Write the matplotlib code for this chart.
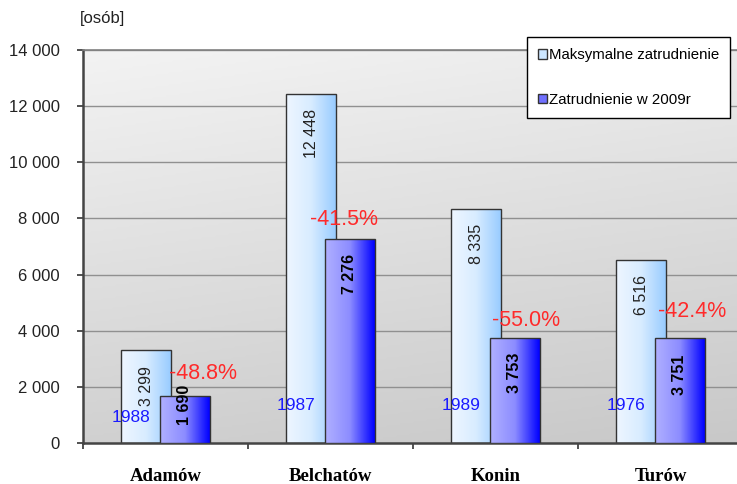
import numpy as np
import matplotlib.pyplot as plt
from matplotlib.colors import LinearSegmentedColormap
from matplotlib.patches import Patch

plt.rcParams['font.family'] = ['Liberation Sans', 'DejaVu Sans']

# dane
kopalnie = ['Adamów', 'Belchatów', 'Konin', 'Turów']
maks_zatr = [3299, 12448, 8335, 6516]
zatr_2009 = [1690, 7276, 3753, 3751]
lata_maks = ['1988', '1987', '1989', '1976']
y_ticks = [0, 2000, 4000, 6000, 8000, 10000, 12000, 14000]
y_tick_labels = ['0', '2 000', '4 000', '6 000', '8 000', '10 000', '12 000', '14 000']

def fmt(v):
    return f'{v:,}'.replace(',', ' ')

fig = plt.figure(figsize=(7.37, 4.84), dpi=100)
ax = fig.add_axes([83/737, 41/484, 660/737, 393/484])
ax.set_xlim(-0.5, 3.5)
ax.set_ylim(0, 14000)

# tlo obszaru wykresu - gradient szary
yy, xx = np.mgrid[0:1:200j, 0:1:200j]
t = 0.8 * yy + 0.2 * xx
bg = LinearSegmentedColormap.from_list('bg', ['#f3f3f3', '#c8c8c8'])
ax.imshow(t, cmap=bg, extent=(0, 1, 0, 1), transform=ax.transAxes,
          aspect='auto', origin='upper', zorder=0)

for v in y_ticks[1:]:
    ax.axhline(v, color='#909090', lw=1, zorder=1)

cm1 = LinearSegmentedColormap.from_list('c1', ['#eef6ff', '#d8ecff', '#99ccff'])
cm2 = LinearSegmentedColormap.from_list('c2', ['#b0b0ff', '#8c8cff', '#0000ff'])
grad = np.linspace(0, 1, 100).reshape(1, -1)

x = np.arange(len(kopalnie))
w = 0.303
off = 0.118

def gradient_bars(xs, vals, cmap, z):
    bars = ax.bar(xs, vals, w, facecolor='none', edgecolor='#333333',
                  lw=1, zorder=z + 0.1)
    for b in bars:
        x0, y0 = b.get_x(), b.get_y()
        im = ax.imshow(grad, cmap=cmap, aspect='auto',
                       extent=(x0, x0 + b.get_width(), y0, y0 + b.get_height()),
                       zorder=z)
        im.set_clip_path(b)
        # tlo pod gradientem zeby przykryc wczesniejsze slupki
        ax.add_patch(plt.Rectangle((x0, y0), b.get_width(), b.get_height(),
                                   facecolor='white', edgecolor='none', zorder=z - 0.05))
    return bars

b1 = gradient_bars(x - off, maks_zatr, cm1, 2)
b2 = gradient_bars(x + off, zatr_2009, cm2, 3)
ax.set_xlim(-0.5, 3.5)
ax.set_ylim(0, 14000)

# etykiety wartosci
for xi, v in zip(x - off, maks_zatr):
    ax.annotate(fmt(v), (xi, v), xytext=(0, -11), textcoords='offset points',
                rotation=90, ha='center', va='top', fontsize=11.5,
                color='#222222', zorder=5)

nudge2 = [8, -11, -11, -12]
for xi, v, dy in zip(x + off, zatr_2009, nudge2):
    ax.annotate(fmt(v), (xi, v), xytext=(0, dy), textcoords='offset points',
                rotation=90, ha='center', va='top', fontsize=11.5,
                fontweight='bold', color='black', zorder=5)

# spadek zatrudnienia w procentach
pct_dx = [13, -4, 8, 9]
pct_dy = [16, 14, 12, 19]
for xi, v1, v2, dx, dy in zip(x + off, maks_zatr, zatr_2009, pct_dx, pct_dy):
    pct = (v2 / v1 - 1) * 100
    ax.annotate(f'{pct:.1f}%', (xi, v2), xytext=(dx, dy), textcoords='offset points',
                ha='center', va='center', fontsize=15.5, color='#ff2a2a', zorder=6)

# rok maksymalnego zatrudnienia
yr_dy = [18, 27, 27, 27]
for xi, yr, dy in zip(x, lata_maks, yr_dy):
    ax.annotate(yr, (xi, 0), xytext=(-25, dy), textcoords='offset points',
                ha='center', va='center', fontsize=12.5, color='#1a1aff', zorder=6)

# osie
ax.set_yticks(y_ticks)
ax.set_yticklabels(y_tick_labels, fontsize=12, color='#222222')
ax.tick_params(axis='y', length=4.5, width=1.2, color='#333333', pad=12)

ax.set_xticks(np.arange(-0.5, 4.0, 1.0))
ax.set_xticklabels([])
ax.set_xticks(x, minor=True)
ax.set_xticklabels(kopalnie, minor=True, fontsize=13.5, fontweight='bold',
                   family=['Liberation Serif', 'DejaVu Serif'])
ax.tick_params(axis='x', which='major', length=4.5, width=1.2, color='#333333')
ax.tick_params(axis='x', which='minor', length=0, pad=18)

for s in ['left', 'bottom']:
    ax.spines[s].set_color('#444444')
    ax.spines[s].set_linewidth(1.8)
ax.spines['top'].set_color('#808080')
ax.spines['top'].set_linewidth(1.2)
ax.spines['right'].set_visible(False)

fig.text(80/737, 1 - 18/484, '[osób]', fontsize=12, color='#222222', va='center')

handles = [Patch(facecolor='#cce6ff', edgecolor='#333333', label='Maksymalne zatrudnienie'),
           Patch(facecolor='#7070ff', edgecolor='#333333', label='Zatrudnienie w 2009r')]
leg = ax.legend(handles=handles, loc='upper left', bbox_to_anchor=(527/737, 1 - 37/484),
                bbox_transform=fig.transFigure, borderaxespad=0, fontsize=10.8,
                handlelength=0.6, handleheight=0.6, handletextpad=0.1,
                labelspacing=2.05, borderpad=0.75, fancybox=False, framealpha=1)
leg.get_frame().set_edgecolor('black')
leg.get_frame().set_linewidth(1)
leg.set_zorder(10)

fig.savefig('out.png', dpi=100)
